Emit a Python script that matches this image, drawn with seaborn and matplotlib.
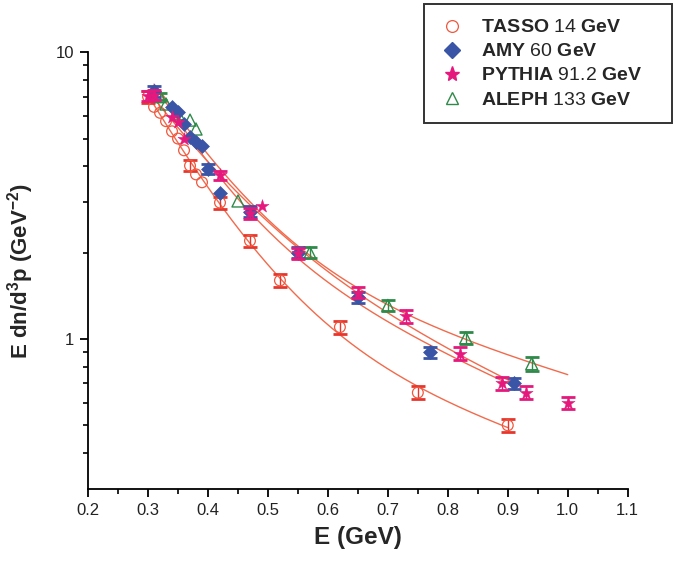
import numpy as np
import matplotlib
matplotlib.use("Agg")
import matplotlib.pyplot as plt
import seaborn as sns
from matplotlib.lines import Line2D
from matplotlib.ticker import FixedLocator, FuncFormatter, NullFormatter, MultipleLocator

# ---- measured spectra: energy (GeV), invariant yield, error ----
tasso_e = [0.30, 0.31, 0.32, 0.33, 0.34, 0.35, 0.36, 0.37, 0.38, 0.39, 0.42, 0.47, 0.52, 0.62, 0.75, 0.90]
tasso_y = [7.00, 6.45, 6.15, 5.75, 5.30, 5.00, 4.55, 4.02, 3.75, 3.52, 2.99, 2.20, 1.60, 1.10, 0.65, 0.50]
tasso_err = [0.33, 0, 0, 0, 0, 0, 0, 0.18, 0, 0, 0.14, 0.10, 0.08, 0.06, 0.033, 0.026]

amy_e = [0.31, 0.34, 0.35, 0.36, 0.37, 0.38, 0.39, 0.40, 0.42, 0.47, 0.55, 0.65, 0.77, 0.91]
amy_y = [7.30, 6.45, 6.20, 5.60, 5.05, 4.85, 4.72, 3.92, 3.22, 2.78, 2.00, 1.40, 0.90, 0.70]
amy_err = [0.30, 0, 0, 0, 0, 0, 0, 0.16, 0, 0.12, 0.09, 0.06, 0.04, 0.03]

pythia_e = [0.30, 0.31, 0.34, 0.35, 0.36, 0.42, 0.47, 0.49, 0.55, 0.65, 0.73, 0.82, 0.89, 0.93, 1.00]
pythia_y = [7.05, 7.10, 5.95, 5.70, 5.00, 3.72, 2.75, 2.92, 1.99, 1.45, 1.20, 0.89, 0.70, 0.65, 0.60]
pythia_err = [0.30, 0.30, 0, 0, 0, 0.14, 0.12, 0, 0.09, 0.065, 0.065, 0.045, 0.035, 0.033, 0.03]

aleph_e = [0.32, 0.33, 0.35, 0.37, 0.38, 0.45, 0.57, 0.70, 0.83, 0.94]
aleph_y = [7.00, 6.60, 6.10, 5.80, 5.40, 3.03, 2.00, 1.31, 1.01, 0.82]
aleph_err = [0.20, 0, 0, 0, 0, 0, 0.09, 0.06, 0.05, 0.045]

# end of the energy range for each fitted curve
fit_end = [0.90, 0.91, 0.91, 1.00]

names = ["TASSO", "AMY", "PYTHIA", "ALEPH"]
energies = ["14", "60", "91.2", "133"]


def fit_two_exp(e, y):
    """Least-squares fit of A*exp(-E/T1) + B*exp(-E/T2) (relative residuals)."""
    e = np.asarray(e, float)
    y = np.asarray(y, float)
    best = None
    for t1 in np.linspace(0.03, 0.40, 75):
        for t2 in np.linspace(0.10, 2.50, 121):
            if t2 <= t1 * 1.05:
                continue
            m = np.column_stack([np.exp(-e / t1), np.exp(-e / t2)]) / y[:, None]
            coef, *_ = np.linalg.lstsq(m, np.ones_like(y), rcond=None)
            if (coef < 0).any():
                continue
            r = m @ coef - 1.0
            ss = float(r @ r)
            if best is None or ss < best[0]:
                best = (ss, t1, t2, coef)
    _, t1, t2, (a, b) = best
    return lambda x: a * np.exp(-x / t1) + b * np.exp(-x / t2)


sns.set_theme(style="white")
plt.rcParams["font.family"] = ["Liberation Sans", "DejaVu Sans"]
plt.rcParams["mathtext.fontset"] = "custom"
plt.rcParams["mathtext.rm"] = "Liberation Sans"
plt.rcParams["mathtext.bf"] = "Liberation Sans:bold"

fig = plt.figure(figsize=(6.83, 5.62), dpi=100)
ax = fig.add_axes([0.129, 0.130, 0.790, 0.777])

c_tasso = "#f0583e"
c_tasso_bar = "#e8352b"
c_amy = "#3a55a6"
c_pythia = "#e5197d"
c_aleph = "#2f8a4a"
c_fit = "#f26a4c"

series = [
    (tasso_e, tasso_y, tasso_err, dict(marker="o", s=60, facecolor="none", edgecolor=c_tasso, linewidth=0.9), c_tasso_bar),
    (amy_e, amy_y, amy_err, dict(marker="D", s=50, color=c_amy, edgecolor=c_amy, linewidth=0.5), c_amy),
    (pythia_e, pythia_y, pythia_err, dict(marker="*", s=100, color=c_pythia, edgecolor=c_pythia, linewidth=0.3), c_pythia),
    (aleph_e, aleph_y, aleph_err, dict(marker="^", s=75, facecolor="none", edgecolor=c_aleph, linewidth=1.0), c_aleph),
]

# two-component exponential fits to each spectrum
for (e, y, _, _, _), xend in zip(series, fit_end):
    f = fit_two_exp(e, y)
    xs = np.linspace(min(e), xend, 200)
    sns.lineplot(x=xs, y=f(xs), ax=ax, color=c_fit,
                 lw=1.0, sort=False, estimator=None, zorder=2)

draw_order = [0, 3, 1, 2]
for z, i in enumerate(draw_order):
    e, y, err, kws, bar_c = series[i]
    e = np.asarray(e); y = np.asarray(y); err = np.asarray(err)
    m = err > 0
    ax.errorbar(e[m], y[m], yerr=err[m], fmt="none", ecolor=bar_c,
                elinewidth=1.0, capsize=4.8, capthick=2.0, zorder=3 + z)
    sns.scatterplot(x=e, y=y, ax=ax, zorder=3.5 + z, legend=False, **kws)

ax.set_yscale("log")
ax.set_xlim(0.2, 1.1)
ax.set_ylim(0.3, 10)

ax.xaxis.set_major_locator(MultipleLocator(0.1))
ax.xaxis.set_minor_locator(MultipleLocator(0.05))
ax.xaxis.set_major_formatter(FuncFormatter(lambda v, p: f"{v:.1f}"))
ax.yaxis.set_major_locator(FixedLocator([1, 10]))
ax.yaxis.set_major_formatter(FuncFormatter(lambda v, p: f"{v:g}"))
minor_y = [0.4, 0.5, 0.6, 0.7, 0.8, 0.9] + [k for k in range(2, 10)]
ax.yaxis.set_minor_locator(FixedLocator(minor_y))
ax.yaxis.set_minor_formatter(NullFormatter())

for side in ("top", "right"):
    ax.spines[side].set_visible(False)
for side in ("left", "bottom"):
    ax.spines[side].set_color("black")
    ax.spines[side].set_linewidth(1.3)

ax.tick_params(axis="both", which="major", direction="out", length=6, width=1.3,
               colors="black", labelsize=12, left=True, bottom=True, pad=4)
ax.tick_params(axis="both", which="minor", direction="out", length=3.5, width=1.2,
               colors="black", left=True, bottom=True)
for lab in ax.get_xticklabels() + ax.get_yticklabels():
    lab.set_color("#222222")

ax.set_xlabel("E (GeV)", fontsize=17.5, fontweight="bold", labelpad=6)
ax.set_ylabel(r"E dn/d$^{\mathbf{3}}$p (GeV$^{\mathbf{-2}}$)", fontsize=16,
              fontweight="bold", labelpad=14)

handles = [
    Line2D([], [], ls="none", marker="o", ms=8.5, mfc="none", mec=c_tasso, mew=0.9),
    Line2D([], [], ls="none", marker="D", ms=8, mfc=c_amy, mec=c_amy),
    Line2D([], [], ls="none", marker="*", ms=11, mfc=c_pythia, mec=c_pythia),
    Line2D([], [], ls="none", marker="^", ms=9, mfc="none", mec=c_aleph, mew=1.0),
]
labels = [rf"$\mathbf{{{n}}}$ {en} $\mathbf{{GeV}}$" for n, en in zip(names, energies)]
leg = ax.legend(handles, labels, loc="upper left", bbox_to_anchor=(0.622, 0.0, 0.461, 1.110),
                mode="expand", borderaxespad=0, fontsize=14, frameon=True, fancybox=False,
                edgecolor="black", labelspacing=0.33, handlelength=1.4,
                handletextpad=0.8, borderpad=0.75)
leg.get_frame().set_linewidth(1.4)

fig.savefig("out.png", dpi=100)
